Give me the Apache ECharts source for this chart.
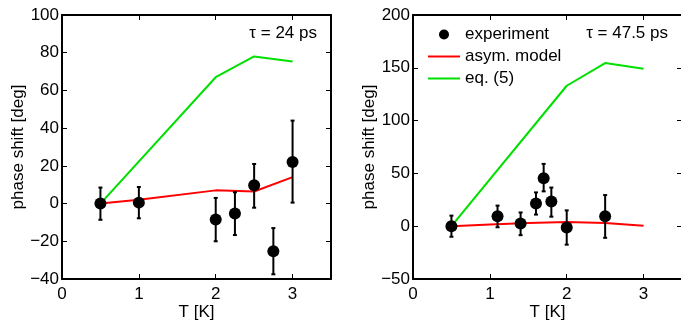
<!DOCTYPE html>
<html>
<head>
<meta charset="utf-8">
<script src="https://cdn.jsdelivr.net/npm/echarts@6/dist/echarts.min.js"></script>
<style>
  html, body { margin: 0; padding: 0; background: #fff; }
  #chart { width: 681px; height: 322px; }
</style>
</head>
<body>
<div id="chart"></div>
<script>
// left panel, tau = 24 ps
const leftT = [0.5, 1, 2, 2.25, 2.5, 2.75, 3];
const leftPhase = [0, 0.5, -8.5, -5.3, 9.7, -25.3, 22];
const leftHigh = [8.5, 8.8, 3, 6, 21, -13, 44];
const leftLow = [-8.6, -7.8, -20, -16.7, -2.2, -37.5, 0.5];
const leftModelT = [0.5, 1, 2, 2.5, 3];
const leftModel = [0, 2, 7, 6.4, 14];
const leftEqT = [0.5, 2, 2.5, 3];
const leftEq = [0, 67, 78, 75.3];

// right panel, tau = 47.5 ps
const rightT = [0.5, 1.1, 1.4, 1.6, 1.7, 1.8, 2, 2.5];
const rightPhase = [0, 9.4, 2.5, 21.6, 45.5, 23.3, -1.3, 9.4];
const rightHigh = [10, 19.5, 13, 32, 59, 36.6, 15, 29.5];
const rightLow = [-10, -1, -8.5, 11, 33, 9, -17.5, -11];
const rightModelT = [0.5, 1, 1.5, 2, 2.5, 3];
const rightModel = [0, 1.5, 3, 4, 3, 0.5];
const rightEqT = [0.5, 2, 2.5, 3];
const rightEq = [0, 133, 154.5, 149];

const yTicksLeft = { min: -40, max: 100, interval: 20 };
const yTicksRight = { min: -50, max: 200, interval: 50 };

const font = "Liberation Sans";
const fs = 17;
const minus = v => String(v).replace('-', '\u2212');

const chart = echarts.init(document.getElementById('chart'));

const pairs = (xs, ys) => xs.map((x, i) => [x, ys[i]]);

function errorBars(gi, xs, lo, hi) {
  return {
    type: 'custom', xAxisIndex: gi * 2, yAxisIndex: gi * 2, silent: true, z: 3,
    data: xs.map((x, i) => [x, lo[i], hi[i]]),
    renderItem: (params, api) => {
      const a = api.coord([api.value(0), api.value(1)]);
      const b = api.coord([api.value(0), api.value(2)]);
      const c = 2;
      const st = { stroke: '#000', lineWidth: 2 };
      return {
        type: 'group', children: [
          { type: 'line', shape: { x1: a[0], y1: a[1], x2: b[0], y2: b[1] }, style: st },
          { type: 'line', shape: { x1: a[0] - c, y1: a[1], x2: a[0] + c, y2: a[1] }, style: st },
          { type: 'line', shape: { x1: b[0] - c, y1: b[1], x2: b[0] + c, y2: b[1] }, style: st }
        ]
      };
    }
  };
}

function axesFor(gi, yt) {
  const tick = { show: true, inside: true, length: 5, lineStyle: { color: '#000', width: 1 } };
  const line = { show: true, onZero: false, lineStyle: { color: '#000', width: 2 } };
  const lab = { color: '#000', fontFamily: font, fontSize: fs };
  const nameStyle = { color: '#000', fontFamily: font, fontSize: fs };
  return {
    x: [
      { gridIndex: gi, type: 'value', min: 0, max: 3.5, interval: 1, position: 'bottom',
        name: 'T [K]', nameLocation: 'middle', nameGap: 25, nameMoveOverlap: false, nameTextStyle: nameStyle,
        axisLine: line, axisTick: tick, splitLine: { show: false },
        axisLabel: Object.assign({ margin: 7, showMaxLabel: false }, lab) },
      { gridIndex: gi, type: 'value', min: 0, max: 3.5, interval: 1, position: 'top',
        axisLine: line, axisTick: tick, splitLine: { show: false }, axisLabel: { show: false } }
    ],
    y: [
      { gridIndex: gi, type: 'value', min: yt.min, max: yt.max, interval: yt.interval, position: 'left',
        name: 'phase shift [deg]', nameLocation: 'middle', nameGap: 35, nameMoveOverlap: false, nameTextStyle: nameStyle,
        axisLine: line, axisTick: tick, splitLine: { show: false },
        axisLabel: Object.assign({ margin: 3, formatter: minus }, lab) },
      { gridIndex: gi, type: 'value', min: yt.min, max: yt.max, interval: yt.interval, position: 'right',
        axisLine: line, axisTick: tick, splitLine: { show: false }, axisLabel: { show: false } }
    ]
  };
}

const a0 = axesFor(0, yTicksLeft);
const a1 = axesFor(1, yTicksRight);

function panelSeries(gi, t, ph, lo, hi, mt, m, et, e) {
  const ax = gi * 2;
  return [
    { name: 'asym. model', type: 'line', xAxisIndex: ax, yAxisIndex: ax, data: pairs(mt, m),
      symbol: 'none', lineStyle: { color: '#ff0000', width: 2 }, itemStyle: { color: '#ff0000' }, z: 2 },
    { name: 'eq. (5)', type: 'line', xAxisIndex: ax, yAxisIndex: ax, data: pairs(et, e),
      symbol: 'none', lineStyle: { color: '#00e000', width: 2 }, itemStyle: { color: '#00e000' }, z: 2 },
    errorBars(gi, t, lo, hi),
    { name: 'experiment', type: 'scatter', xAxisIndex: ax, yAxisIndex: ax, data: pairs(t, ph),
      symbol: 'circle', symbolSize: 12, itemStyle: { color: '#000', opacity: 1 }, z: 4 }
  ];
}

const titleStyle = { fontFamily: font, fontSize: fs, fontWeight: 'normal', color: '#000' };

chart.setOption({
  animation: false,
  backgroundColor: '#fff',
  title: [
    { text: '\u03c4 = 24 ps', right: 359, top: 20, textStyle: titleStyle },
    { text: '\u03c4 = 47.5 ps', right: 8, top: 20, textStyle: titleStyle }
  ],
  legend: {
    orient: 'vertical', left: 422, top: 21, itemWidth: 32, itemHeight: 10, itemGap: 5,
    data: [
      { name: 'experiment', icon: 'circle' },
      { name: 'asym. model', itemStyle: { opacity: 0 } },
      { name: 'eq. (5)', itemStyle: { opacity: 0 } }
    ],
    textStyle: { fontFamily: font, fontSize: fs, color: '#000', padding: [0, 0, 0, 0] }
  },
  grid: [
    { left: 62, top: 15, width: 269, height: 264, outerBoundsMode: 'none' },
    { left: 413, top: 15, width: 269, height: 264, outerBoundsMode: 'none' }
  ],
  xAxis: a0.x.concat(a1.x),
  yAxis: a0.y.concat(a1.y),
  series: panelSeries(0, leftT, leftPhase, leftLow, leftHigh, leftModelT, leftModel, leftEqT, leftEq)
    .concat(panelSeries(1, rightT, rightPhase, rightLow, rightHigh, rightModelT, rightModel, rightEqT, rightEq))
});
</script>
</body>
</html>
